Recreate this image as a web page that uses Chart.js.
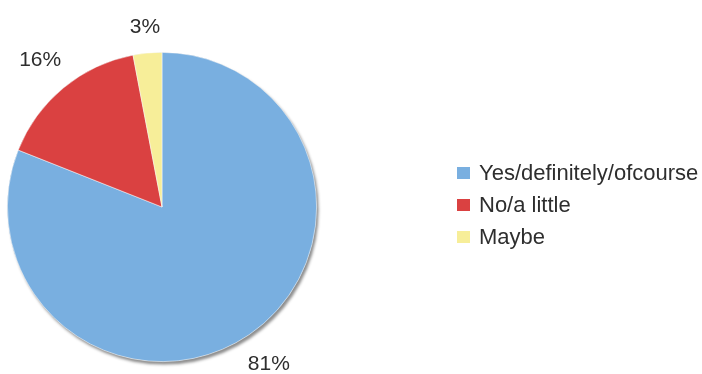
<!DOCTYPE html>
<html>
<head>
<meta charset="utf-8">
<script src="https://cdn.jsdelivr.net/npm/chart.js@4/dist/chart.umd.min.js"></script>
<style>
  body { margin: 0; background: #fff; }
  #holder { width: 702px; height: 374px; position: relative; }
</style>
</head>
<body>
<div id="holder"><canvas id="answersChart"></canvas></div>
<script>
// answers
let answerLabels = ['Yes/definitely/ofcourse', 'No/a little', 'Maybe'];
let answerValues = [81, 16, 3];
let answerColors = ['#79afe0', '#da4141', '#f7ee99'];

let fontFamily = '"Liberation Sans", Arial, Helvetica, sans-serif';
let textColor = '#2e2e2e';

// grey disc behind the pie so it looks lifted
let pieShadow = {
    id: 'pieShadow',
    beforeDatasetsDraw(chart){
        let arc = chart.getDatasetMeta(0).data[0];
        if(!arc) return;
        let ctx = chart.ctx;
        ctx.save();
        ctx.shadowColor = 'rgba(0,0,0,0.45)';
        ctx.shadowBlur = 3;
        ctx.shadowOffsetX = 2;
        ctx.shadowOffsetY = 3;
        ctx.fillStyle = '#c8c8c8';
        ctx.beginPath();
        ctx.arc(arc.x, arc.y, arc.outerRadius, 0, Math.PI * 2);
        ctx.fill();
        ctx.restore();
    }
};

// percentage next to each slice, outside the rim
let sliceLabels = {
    id: 'sliceLabels',
    afterDatasetsDraw(chart){
        let ctx = chart.ctx;
        let meta = chart.getDatasetMeta(0);
        ctx.save();
        ctx.font = '21px ' + fontFamily;
        ctx.fillStyle = textColor;
        ctx.textAlign = 'center';
        ctx.textBaseline = 'middle';
        meta.data.forEach((arc, i) => {
            let text = answerValues[i] + '%';
            let mid = (arc.startAngle + arc.endAngle) / 2;
            let ux = Math.cos(mid);
            let uy = Math.sin(mid);
            let hw = ctx.measureText(text).width / 2;
            let hh = 8;
            let dist = arc.outerRadius + 17 + hw * Math.abs(ux) + hh * Math.abs(uy);
            ctx.fillText(text, arc.x + ux * dist, arc.y + uy * dist);
        });
        ctx.restore();
    }
};

// legend on the right
let sideLegend = {
    id: 'sideLegend',
    afterDraw(chart){
        let ctx = chart.ctx;
        let x = 457;
        let y = 173;
        ctx.save();
        ctx.font = '22px ' + fontFamily;
        ctx.textBaseline = 'middle';
        chart.data.labels.forEach((label, i) => {
            let rowY = y + i * 32;
            ctx.fillStyle = chart.data.datasets[0].backgroundColor[i];
            ctx.fillRect(x, rowY - 6, 13, 12);
            ctx.fillStyle = textColor;
            ctx.fillText(label, x + 22, rowY + 1);
        });
        ctx.restore();
    }
};

let config = {
    type : 'pie',
    data : {
        labels : answerLabels,
        datasets : [{
            data : answerValues,
            backgroundColor : answerColors,
            borderColor : 'rgba(255,255,255,0.6)',
            borderWidth : 0.8
        }]
    },
    options : {
        responsive : true,
        maintainAspectRatio : false,
        animation : false,
        layout : {padding : {left : 7, top : 52, right : 385, bottom : 12}},
        plugins : {
            legend : {display : false},
            title : {display : false},
            tooltip : {enabled : false}
        }
    },
    plugins : [pieShadow, sliceLabels, sideLegend]
};

new Chart(document.getElementById('answersChart'), config);
</script>
</body>
</html>
